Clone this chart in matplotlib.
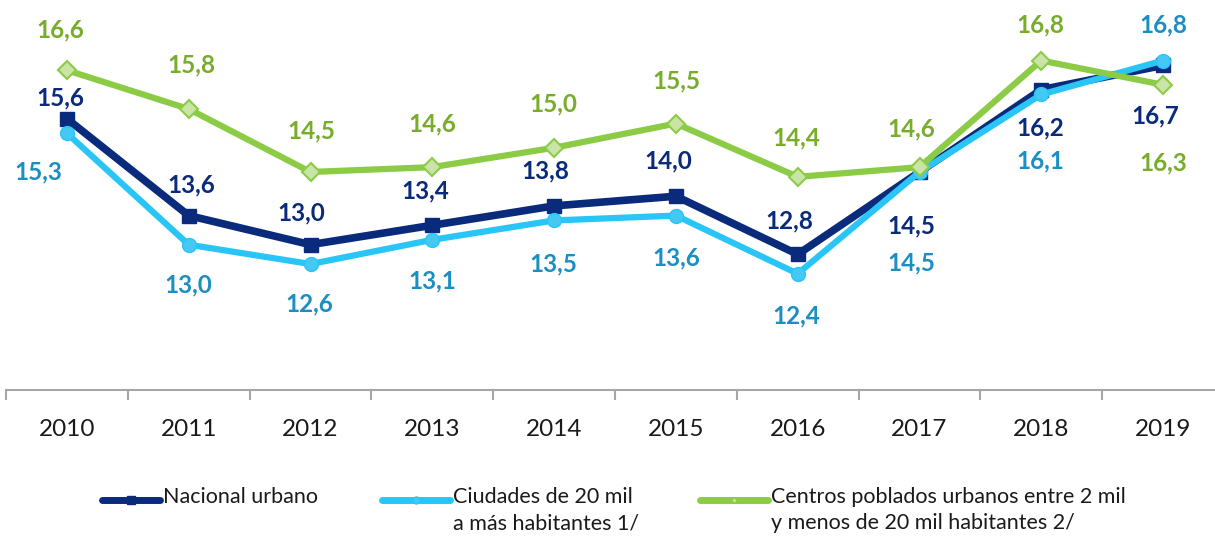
import matplotlib
matplotlib.use("Agg")
import matplotlib.pyplot as plt
from matplotlib.lines import Line2D

years = ["2010", "2011", "2012", "2013", "2014", "2015", "2016", "2017", "2018", "2019"]
nacional = [15.6, 13.6, 13.0, 13.4, 13.8, 14.0, 12.8, 14.5, 16.2, 16.7]
ciudades = [15.3, 13.0, 12.6, 13.1, 13.5, 13.6, 12.4, 14.5, 16.1, 16.8]
centros = [16.6, 15.8, 14.5, 14.6, 15.0, 15.5, 14.4, 14.6, 16.8, 16.3]

lab_nac = "Nacional urbano"
lab_ciu = "Ciudades de 20 mil\na más habitantes 1/"
lab_cen = "Centros poblados urbanos entre 2 mil\ny menos de 20 mil habitantes 2/"

# label offsets in pixels (dx, dy; dy positive = up)
off_nac = [(-7, 21), (3, 31), (-9, 32), (-7, 34), (-9, 35), (-8, 35), (-8, 33), (-8, -54), (-1, -38), (-8, -51)]
off_ciu = [(-29, -39), (0, -40), (-1, -40), (0, -41), (-1, -43), (0, -42), (-1, -42), (-8, -91), (-1, -66), (0, 36)]
off_cen = [(-7, 40), (3, 44), (1, 41), (0, 43), (-1, 44), (0, 43), (-1, 39), (-8, 38), (-1, 36), (0, -78)]

FONT = "Lato"
c_nav = "#0A2A7C"
c_cyan = "#29C5F6"
c_cyan_t = "#1B8EC2"
c_green = "#8CCB45"
c_green_t = "#78AD2C"
c_green_m = "#C9E4A6"

W, H = 1215, 539
fig = plt.figure(figsize=(12.15, 5.39), dpi=100)
ax = fig.add_axes([6 / W, 1 - 390 / H, 1 - 6 / W, 390 / H])
x = list(range(len(years)))

ax.plot(x, nacional, color=c_nav, lw=5.5, marker="s", ms=10, mfc=c_nav, mec=c_nav, zorder=3, solid_joinstyle="miter")
ax.plot(x, ciudades, color=c_cyan, lw=4.5, marker="o", ms=10, mfc="#45C9F4", mec=c_cyan, zorder=4)
ax.plot(x, centros, color=c_green, lw=4.5, marker="D", ms=9, mfc=c_green_m, mec=c_green, mew=1.5, zorder=5)

def fmt(v):
    return f"{v:.1f}".replace(".", ",")

for vals, offs, col in [(nacional, off_nac, c_nav), (ciudades, off_ciu, c_cyan_t), (centros, off_cen, c_green_t)]:
    for i, (v, o) in enumerate(zip(vals, offs)):
        ax.annotate(fmt(v), (i, v), xytext=o, textcoords="offset pixels",
                    ha="center", va="center", fontsize=17.5, fontweight="bold",
                    color=col, family=FONT, zorder=6)

ax.set_xlim(-0.5, 9.426)
ax.set_ylim(10, 18.05)
for s in ["top", "right", "left"]:
    ax.spines[s].set_visible(False)
ax.spines["bottom"].set_color("#A6A6A6")
ax.spines["bottom"].set_linewidth(1.5)
ax.set_yticks([])
ax.set_xticks(x)
ax.set_xticklabels(years, family=FONT, fontsize=17.5, color="#1A1A1A")
ax.tick_params(axis="x", which="major", length=0, pad=21)
ax.set_xticks([i - 0.5 for i in range(len(years))], minor=True)
ax.tick_params(axis="x", which="minor", length=7, width=1.5, color="#A6A6A6", direction="out")

# legend (manual, in figure pixels)
def leg(x0, x1, color, marker, mfc, text, ms):
    y = 1 - 500 / H
    fig.add_artist(Line2D([x0 / W, x1 / W], [y, y], color=color, lw=5, solid_capstyle="round",
                          transform=fig.transFigure))
    fig.add_artist(Line2D([(x0 + x1) / 2 / W], [y], color=color, marker=marker, ms=ms, mfc=mfc,
                          mec=color, transform=fig.transFigure))
    fig.text((x1 + 3) / W, y + 13 / H, text, family=FONT, fontsize=15.5, color="#1A1A1A",
             va="top", ha="left", linespacing=1.4)

leg(102, 160, c_nav, "s", c_nav, lab_nac, 6)
leg(382, 450, c_cyan, "o", "#45C9F4", lab_ciu, 5)
leg(700, 768, c_green, "D", c_green_m, lab_cen, 3)

fig.savefig("out.png", dpi=100)
